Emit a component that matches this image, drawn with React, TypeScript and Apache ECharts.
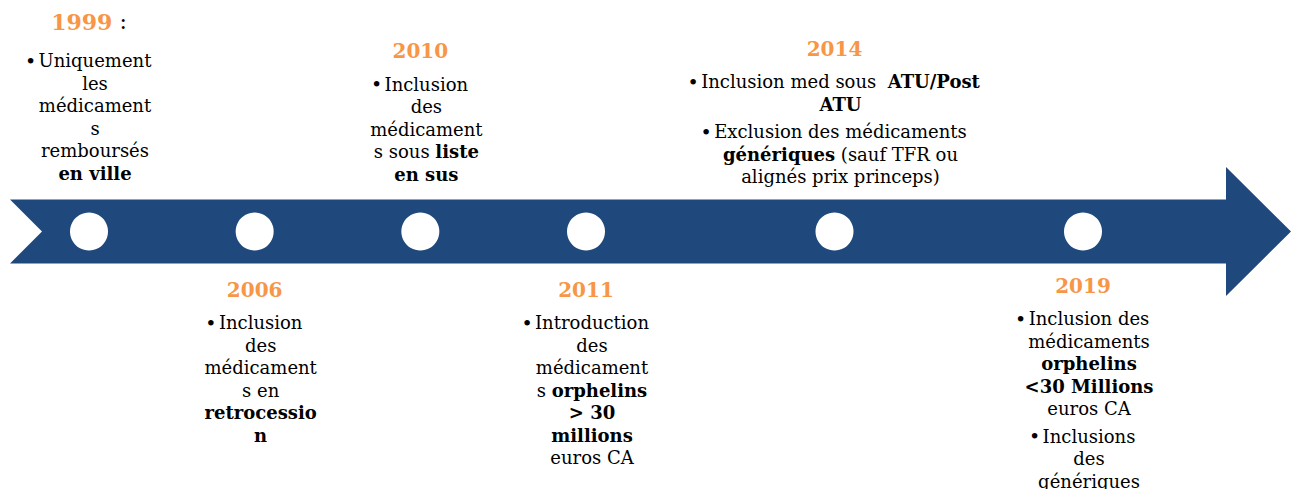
import React, { useEffect, useRef } from "react";
import * as echarts from "echarts";

// ---- data ----
const years = ["1999", "2006", "2010", "2011", "2014", "2019"];
// slot position of each milestone along the timeline
const slots = [0, 1, 2, 3, 4.5, 6];
const sides = ["top", "bottom", "top", "bottom", "top", "bottom"];
// paragraphs (bullets) of each milestone, one string per displayed line
const notes: string[][][] = [
  [["Uniquement", "les", "médicament", "s", "remboursés", "{b|en ville}"]],
  [["Inclusion", "des", "médicament", "s en", "{b|retrocessio}", "{b|n}"]],
  [["Inclusion", "des", "médicament", "s sous {b|liste}", "{b|en sus}"]],
  [["Introduction", "des", "médicament", "s {b|orphelins}", "{b|> 30}", "{b|millions}", "euros CA"]],
  [
    ["Inclusion med sous  {b|ATU/Post}", "{b|ATU}"],
    ["Exclusion des médicaments", "{b|génériques} (sauf TFR ou", "alignés prix princeps)"],
  ],
  [
    ["Inclusion des", "médicaments", "{b|orphelins}", "{b|<30 Millions}", "euros CA"],
    ["Inclusions", "des", "génériques"],
  ],
];
const distances = [28.25, 18, 27.25, 18, 24.5, 14];

const NAVY = "#1F497D";
const ORANGE = "#F79646";
const FONT = "DejaVu Serif";

function buildText(i: number): string {
  const yearLine =
    i === 0
      ? "{y1|" + years[i] + "}{col| :}{gy|•}"
      : "{y|" + years[i] + "}{gy|•}";
  const lines: string[] = [yearLine];
  notes[i].forEach((para, p) => {
    if (p > 0) lines.push("{gap| }");
    para.forEach((ln, k) => {
      if (k === 0) lines.push("{bul|•}" + ln + "{gh|•}");
      else lines.push(ln);
    });
  });
  return lines.join("\n");
}

const rich = {
  y: { fontFamily: FONT, fontSize: 20, fontWeight: "bold", color: ORANGE, lineHeight: 43 },
  y1: { fontFamily: FONT, fontSize: 22, fontWeight: "bold", color: ORANGE, lineHeight: 55.5 },
  col: { fontFamily: FONT, fontSize: 22, color: "#000", lineHeight: 22.5 },
  gy: { fontFamily: FONT, fontSize: 10, color: "transparent", width: 12, lineHeight: 10 },
  b: { fontFamily: FONT, fontSize: 18, fontWeight: "bold", color: "#000", lineHeight: 22.5 },
  bul: { fontFamily: FONT, fontSize: 19, color: "#000", width: 16, lineHeight: 22.5 },
  gh: { fontFamily: FONT, fontSize: 19, color: "transparent", width: 16, lineHeight: 22.5 },
  gap: { fontFamily: FONT, fontSize: 2, lineHeight: 5 },
};

export default function App() {
  const ref = useRef<HTMLDivElement>(null);
  useEffect(() => {
    if (!ref.current) return;
    const chart = echarts.init(ref.current, undefined, { renderer: "svg" });
    chart.setOption({
      animation: false,
      backgroundColor: "#ffffff",
      grid: { left: 89, right: 212, top: 0, bottom: 26 },
      xAxis: { type: "value", min: 0, max: 6, show: false },
      yAxis: { type: "value", min: -1, max: 1, show: false },
      graphic: [
        {
          type: "polygon",
          z: 0,
          shape: {
            points: [
              [10, 199.5],
              [1226, 199.5],
              [1226, 167],
              [1291, 231.5],
              [1226, 296],
              [1226, 263.5],
              [10, 263.5],
              [42, 231.5],
            ],
          },
          style: { fill: NAVY },
        },
      ],
      series: [
        {
          type: "scatter",
          symbol: "circle",
          symbolSize: 38,
          itemStyle: { color: "#ffffff", opacity: 1 },
          z: 5,
          data: slots.map((s, i) => ({
            value: [s, 0],
            label: {
              show: true,
              position: sides[i],
              distance: distances[i],
              offset: [6, 0],
              align: "center",
              formatter: buildText(i),
              fontFamily: FONT,
              fontSize: 18,
              color: "#000",
              lineHeight: 22.5,
              rich,
            },
          })),
        },
      ],
    });
    return () => chart.dispose();
  }, []);
  return (
    <div
      ref={ref}
      style={{ position: "absolute", left: 0, top: 0, width: 1295, height: 489 }}
    />
  );
}
